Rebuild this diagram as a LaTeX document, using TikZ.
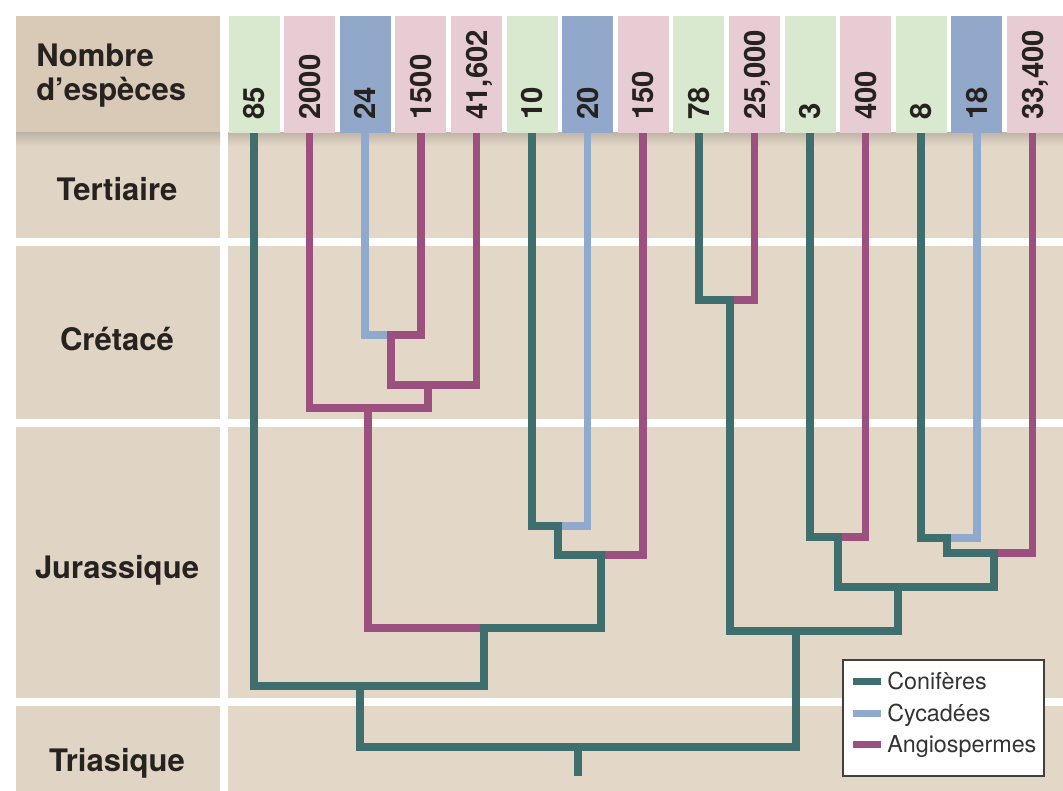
\documentclass[tikz,border=0pt]{standalone}
\usepackage{fontspec}
\setmainfont{TeX Gyre Heros}
\usepackage{xcolor}
\usepackage{tikz}

\definecolor{conif}{RGB}{62,110,110}
\definecolor{cycad}{RGB}{143,170,205}
\definecolor{angio}{RGB}{155,80,128}
\definecolor{gstrip}{RGB}{216,233,208}
\definecolor{pstrip}{RGB}{231,205,211}
\definecolor{bstrip}{RGB}{145,168,202}
\definecolor{bgtan}{RGB}{227,215,199}
\definecolor{coltan}{RGB}{224,212,196}
\definecolor{headtan}{RGB}{216,202,183}
\definecolor{ink}{RGB}{38,34,31}

\begin{document}
\begin{tikzpicture}[x=0.75pt,y=-0.75pt,
		branch/.style={line width=5.8pt,line cap=rect,line join=miter},
		era/.style={font=\bfseries\fontsize{23.25}{28}\selectfont,text=ink,anchor=base,inner sep=0pt},
		count/.style={font=\bfseries\fontsize{22}{26}\selectfont,text=ink,rotate=90,anchor=west,inner sep=0pt,text depth=0pt},
		legtext/.style={font=\fontsize{17.5}{20}\selectfont,text=black!80,anchor=base west,inner sep=0pt}]
	\useasboundingbox (0,0) rectangle (1063,791);
	\fill[white] (0,0) rectangle (1063,791);
	
	% panels
	\fill[headtan] (16,16) rectangle (220,133);
	\fill[coltan] (16,133) rectangle (220,791);
	\fill[bgtan] (228,133) rectangle (1063,791);
	\shade[top color=coltan!85!black,bottom color=coltan] (16,133) rectangle (220,146);
	\shade[top color=bgtan!85!black,bottom color=bgtan] (228,133) rectangle (1063,146);
	\foreach \y in {242,423,702}{
		\fill[white] (16,\y-4) rectangle (1063,\y+4);
	}
	
	% species counts (one column per leaf)
	\foreach \i/\n/\col in
	{0/85/gstrip, 1/2000/pstrip, 2/24/bstrip, 3/1500/pstrip, 4/{41,602}/pstrip,
	5/10/gstrip, 6/20/bstrip, 7/150/pstrip, 8/78/gstrip, 9/{25,000}/pstrip,
	10/3/gstrip, 11/400/pstrip, 12/8/gstrip, 13/18/bstrip, 14/{33,400}/pstrip}{
		\fill[\col] (254+55.6*\i-25.5,16) rectangle (254+55.6*\i+25.5,133);
		\node[count] (N\i) at (254+55.6*\i,120) {\n};
		\coordinate (L\i) at (254+55.6*\i,136.5);
	}
	\fill[pstrip] (1057,16) rectangle (1063,133); % last column runs off the edge
	
	% joins (x of the stem, y of the bar)
	\foreach \x/\y/\z in
	{A/391/335, B/428/385, C/368/408, D/558/526, E/601/555, F/484/628, G/360/686,
	H/730/300, I/838/537, K/947/538, M/994/553, P/898/587, Q/796/631, R/578/747}{
		\coordinate (\x) at (\y,\z);
	}
	\coordinate (S) at (578,772);
	
	% branches
	\foreach \p/\q/\col in
	{L0/G/conif, L1/C/angio, L2/A/cycad, L3/A/angio, L4/B/angio,
	L5/D/conif, L6/D/cycad, L7/E/angio, L8/H/conif, L9/H/angio,
	L10/I/conif, L11/I/angio, L12/K/conif, L13/K/cycad, L14/M/angio,
	A/B/angio, B/C/angio, C/F/angio, D/E/conif, E/F/conif, F/G/conif, G/R/conif,
	H/Q/conif, I/P/conif, K/M/conif, M/P/conif, P/Q/conif, Q/R/conif}{
		\draw[branch,\col] (\p) -- (\p |- \q) -- (\q);
	}
	\draw[branch,conif] (R) -- (S); % root
	
	% eras
	\node[era,anchor=base west] (h1) at (36,67) {Nombre};
	\node[era,anchor=base west] (h2) at (36,101) {d’espèces};
	\foreach \x/\y/\lab in
	{eT/201/Tertiaire, eK/350/Crétacé, eJ/578/Jurassique, eTr/771/Triasique}{
		\node[era] (\x) at (117,\y) {\lab};
	}
	
	% legend
	\draw[fill=white,draw=black!75,line width=0.9pt] (843,660) rectangle (1044,776);
	\foreach \x/\y/\lab in
	{conif/689/Conifères, cycad/721/Cycadées, angio/752/Angiospermes}{
		\node[legtext] (g\x) at (887,\y) {\lab};
		\draw[\x,line width=5.25pt] ([xshift=-25.5pt,yshift=6pt]g\x.base west) -- ([xshift=-4.5pt,yshift=6pt]g\x.base west);
	}
\end{tikzpicture}
\end{document}
